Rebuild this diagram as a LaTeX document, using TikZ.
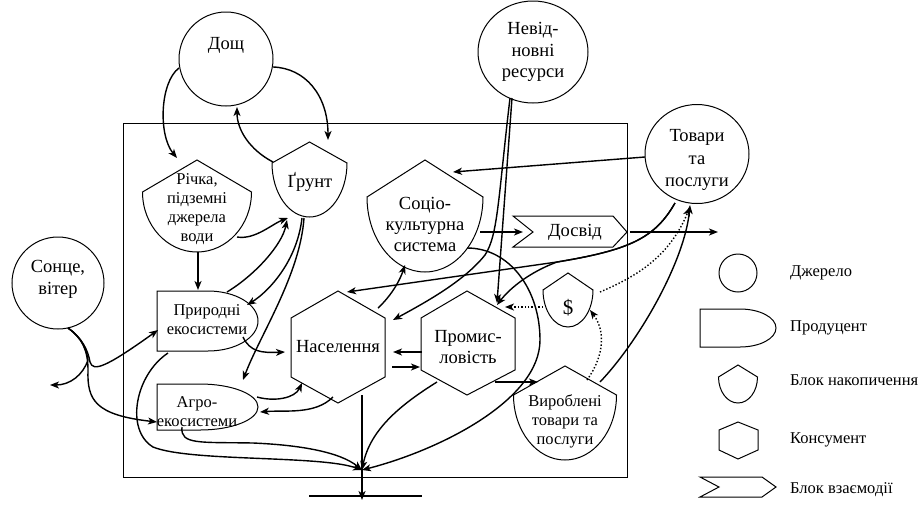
\documentclass[tikz,border=0pt]{standalone}
\usepackage{fontspec}
\setmainfont{Liberation Serif}
\usetikzlibrary{calc,arrows.meta,shapes.geometric}
\tikzset{
  shp/.style={draw, line width=1pt},
  con/.style={line width=1.4pt, -{Stealth[length=9pt,width=7pt,inset=2.5pt]}},
  dcon/.style={line width=1.4pt, dotted, -{Stealth[length=9pt,width=7pt,inset=2.5pt]}},
  plain/.style={line width=1.4pt},
  txt/.style={align=center, font=\fontsize{18.5}{21}\selectfont, inner sep=0pt},
  stxt/.style={align=center, font=\fontsize{16.5}{19}\selectfont, inner sep=0pt},
  lg/.style={anchor=west, font=\fontsize{16.5}{18}\selectfont, inner sep=0pt},
}
\begin{document}
\begin{tikzpicture}[x=1pt,y=-1pt]
\useasboundingbox (0,0) rectangle (921,512);
% main frame
\draw[shp] (123,123) rectangle (627,477);
% sources
\node[shp, circle, minimum size=94pt, inner sep=0pt] (rain) at (226,59) {};
\node[txt] (rainT) at (226,45) {Дощ};
\node[shp, ellipse, minimum width=110pt, minimum height=102pt, inner sep=0pt, txt, font=\fontsize{18.5}{21.5}\selectfont] (nonren) at (533,52) {Невід-\\новні\\ресурси};
\node[shp, ellipse, minimum width=104pt, minimum height=99pt, inner sep=0pt] (goods) at (697,154) {};
\node[txt, font=\fontsize{18.5}{22.5}\selectfont] (goodsT) at (697,160) {Товари\\та\\послуги};
\node[shp, circle, minimum size=92pt, inner sep=0pt] (sun) at (58,283) {};
\node[txt, font=\fontsize{18.5}{22}\selectfont] (sunT) at (58,279) {Сонце,\\вітер};
% storage blocks
\draw[shp] (142.5,192) -- (197,160) -- (251.5,192) arc[start angle=0,end angle=-180,x radius=54.5pt,y radius=60pt] -- cycle;
\node[stxt] (river) at (197,209) {Річка,\\підземні\\джерела\\води};
\draw[shp] (272,163) -- (309.5,142) -- (347,163) arc[start angle=0,end angle=-180,x radius=37.5pt,y radius=54pt] -- cycle;
\node[txt] (soil) at (310,182) {Ґрунт};
\draw[shp] (367,197) -- (425,160) -- (483,197) arc[start angle=0,end angle=-180,x radius=58pt,y radius=75pt] -- cycle;
\node[txt] (socio) at (425,224) {Соціо-\\культурна\\система};
\draw[shp] (543,290) -- (568,273) -- (593,290) arc[start angle=0,end angle=-180,x radius=25pt,y radius=37pt] -- cycle;
\node[txt, font=\fontsize{21}{24}\selectfont] (dollar) at (568,308) {\$};
\draw[shp] (513.5,395) -- (565,366) -- (616.5,395) arc[start angle=0,end angle=-180,x radius=51.5pt,y radius=65pt] -- cycle;
\node[stxt] (prod) at (565,421) {Вироблені\\товари та\\послуги};
% interaction block
\draw[shp] (513,216) -- (613,216) -- (627,232) -- (613,247) -- (513,247) -- (533,232) -- cycle;
\node[txt] (exp) at (575,232) {Досвід};
% producers
\draw[shp] (157,291) -- (208,291) arc[start angle=90,end angle=-90,x radius=50pt,y radius=30pt] -- (157,351) -- cycle;
\node[stxt] (nat) at (207,320) {Природні\\екосистеми};
\draw[shp] (157,384) -- (200,384) arc[start angle=90,end angle=-90,x radius=58pt,y radius=23pt] -- (157,430) -- cycle;
\node[stxt] (agro) at (197,412) {Агро-\\екосистеми};
% consumers
\draw[shp] (338,291) -- (385,318) -- (385,377) -- (338,403) -- (291,377) -- (291,318) -- cycle;
\node[txt] (pop) at (338,347) {Населення};
\draw[shp] (467,291) -- (515,318) -- (515,370) -- (467,395) -- (421,370) -- (421,318) -- cycle;
\node[txt] (ind) at (468,347) {Промис-\\ловість};
% coordinates
\coordinate (sink) at (362,470);
\coordinate (outB) at (362,500);
\coordinate (gl) at (309,496);
\coordinate (gr) at (422,496);
\coordinate (expout) at (718,232);
\coordinate (sunout) at (50,385);
\coordinate (br) at (557,262);
% connectors
\draw[con] ($(rain)+(-47,9)$) .. controls +(-19,14) and +(-19,-23) .. ($(river)+(-20,-51)$);
\draw[con] ($(rain)+(47,8)$) .. controls +(32,1) and +(0,-45) .. ($(soil)+(18,-42)$);
\draw[con] ($(soil)+(-37,-20)$) .. controls +(-23,-12) and +(0,23) .. ($(rain)+(11,48)$);
\draw[con] ($(river)+(40,28)$) .. controls +(18,3) and +(-16,6) .. ($(soil)+(-22,36)$);
\draw[con] ($(river)+(1,43)$) -- ($(nat)+(-9,-30)$);
\draw[con] ($(nat)+(20,-28)$) .. controls +(28,-17) and +(-5,25) .. ($(soil)+(-23,38)$);
\draw[con] ($(soil)+(-8,36)$) .. controls +(-5,44) and +(21,-13) .. ($(nat)+(40,-15)$);
\draw[con] ($(soil)+(-6,36)$) .. controls +(-4,57) and +(17,-45) .. ($(agro)+(46,-32)$);
\draw[con] ($(nat)+(36,17)$) .. controls +(7,15) and +(-23,1) .. ($(pop)+(-53,5)$);
\draw[con] ($(goods)+(-52,3)$) -- ($(socio)+(28,-52)$);
\draw[con] ($(socio)+(55,8)$) -- ($(exp)+(-52,0)$);
\draw[con] ($(exp)+(55,0)$) -- (expout);
\draw[con] ($(goods)+(-22,49)$) .. controls +(-20,35) and +(73,-12) .. (br) -- ($(pop)+(9,-55)$);
\draw[con] ($(goods)+(-22,49)$) .. controls +(-20,35) and +(73,-12) .. (br) .. controls +(-27,10) and +(13,-17) .. ($(ind)+(29,-42)$);
\draw[con] ($(nonren)+(-21,46)$) -- ($(ind)+(29,-44)$);
\draw[con] ($(nonren)+(-23,46)$) .. controls +(-12,102) and +(13,-20) .. (485,255) .. controls +(-20,25) and +(37,-20) .. ($(pop)+(55,-27)$);
\draw[con] ($(socio)+(42,24)$) .. controls +(43,0) and +(0,-50) .. (540,340) .. controls +(0,60) and +(78,-20) .. (sink);
\draw[con] ($(pop)+(40,-39)$) .. controls +(14,-13) and +(-5,15) .. ($(socio)+(-20,41)$);
\draw[con] ($(ind)+(-46,5)$) -- ($(pop)+(55,5)$);
\draw[con] ($(pop)+(54,20)$) -- ($(ind)+(-48,20)$);
\draw[con] ($(ind)+(27,35)$) -- ($(prod)+(-27,-39)$);
\draw[con] ($(ind)+(-31,35)$) .. controls +(-37,23) and +(8,-40) .. (sink);
\draw[con] ($(pop)+(24,48)$) -- (outB);
\draw[plain] (gl) -- (gr);
\draw[con] ($(agro)+(-15,15)$) .. controls +(-2,18) and +(-53,-1) .. (253,443) .. controls +(47,2) and +(-22,-18) .. (sink);
\draw[con] ($(nat)+(-39,33)$) .. controls +(-33,22) and +(-28,-17) .. (153,447) .. controls +(37,15) and +(-42,-15) .. (sink);
\draw[con] ($(agro)+(60,-15)$) .. controls +(18,5) and +(-7,15) .. ($(pop)+(-36,36)$);
\draw[con] ($(pop)+(-5,50)$) .. controls +(-18,18) and +(25,-2) .. ($(agro)+(63,0)$);
\draw[con] ($(sun)+(10,45)$) .. controls +(14,10) and +(-2,-12) .. (90,362) .. controls +(3,10) and +(-53,38) .. ($(nat)+(-49,10)$);
\draw[con] ($(sun)+(10,45)$) .. controls +(14,10) and +(0,-20) .. (88,370) .. controls +(-1,30) and +(-62,-7) .. ($(agro)+(-40,10)$);
\draw[con] ($(sun)+(10,45)$) .. controls +(14,10) and +(-2,-12) .. (88,360) .. controls +(-5,15) and +(20,0) .. (sunout);
\draw[con] ($(prod)+(35,-39)$) .. controls +(40,-42) and +(-5,55) .. ($(goods)+(-7,51)$);
\draw[dcon] ($(prod)+(22,-41)$) .. controls +(18,-25) and +(15,20) .. ($(dollar)+(22,2)$);
\draw[dcon] ($(dollar)+(-25,-1)$) -- ($(ind)+(37,-40)$);
\draw[dcon] ($(dollar)+(32,-16)$) .. controls +(40,-17) and +(-20,48) .. ($(goods)+(-7,53)$);
% legend
\node[shp, circle, minimum size=38pt, inner sep=0pt] (lgsrc) at (738,273) {};
\node[lg] (lgsrcT) at (790,273) {Джерело};
\draw[shp] (700,309) -- (740,309) arc[start angle=90,end angle=-90,x radius=36pt,y radius=19pt] -- (700,347) -- cycle;
\node[lg] (lgprodT) at (790,328) {Продуцент};
\draw[shp] (718.5,377) -- (738,365) -- (757.5,377) arc[start angle=0,end angle=-180,x radius=19.5pt,y radius=26pt] -- cycle;
\node[lg] (lgstorT) at (790,380) {Блок накопичення};
\draw[shp] (738,422) -- (758,430) -- (758,450) -- (738,459) -- (719,450) -- (719,430) -- cycle;
\node[lg] (lgconsT) at (790,440) {Консумент};
\draw[shp] (700,477) -- (762,477) -- (776,487) -- (762,497) -- (700,497) -- (719,487) -- cycle;
\node[lg] (lginterT) at (790,490) {Блок взаємодії};
\end{tikzpicture}
\end{document}
